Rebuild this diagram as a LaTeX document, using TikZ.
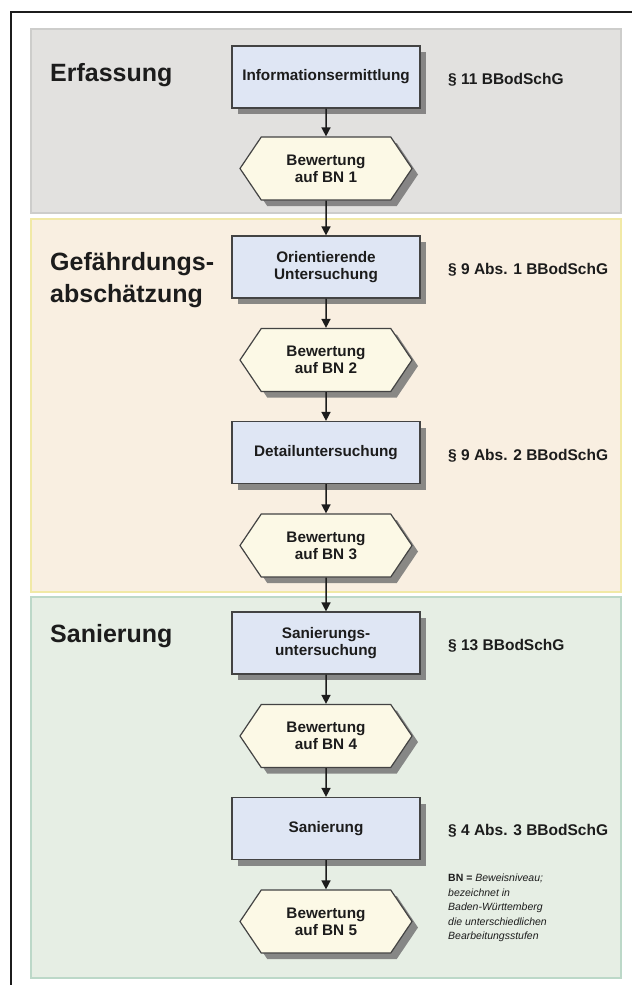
\documentclass[tikz,border=0pt]{standalone}
\usepackage{fontspec}
\setmainfont{Liberation Sans}
\usetikzlibrary{shapes.symbols, arrows.meta, shadows}

\definecolor{panelgray}{HTML}{E2E1DF}
\definecolor{panelgrayedge}{HTML}{CDCDCB}
\definecolor{panelyellow}{HTML}{F9EFE1}
\definecolor{panelyellowedge}{HTML}{F1E9A6}
\definecolor{panelgreen}{HTML}{E6EEE4}
\definecolor{panelgreenedge}{HTML}{BCD8C8}
\definecolor{boxfill}{HTML}{DFE6F4}
\definecolor{hexfill}{HTML}{FCF9E6}
\definecolor{edgedark}{HTML}{434343}
\definecolor{inkdark}{HTML}{1C1C1C}
\definecolor{shadowgray}{HTML}{767676}

\tikzset{
  panel/.style={line width=1.2pt},
  stepbox/.style={rectangle, draw=edgedark, line width=1.2pt, fill=boxfill,
    minimum width=188pt, minimum height=62pt, inner sep=0pt,
    align=center, text=inkdark,
    font=\fontsize{15.3}{17}\selectfont\bfseries,
    drop shadow={shadow xshift=6pt, shadow yshift=-6pt, fill=shadowgray, opacity=0.85}},
  evalhex/.style={signal, signal to=east and west, signal pointer angle=112,
    draw=edgedark, line width=1.2pt, fill=hexfill,
    minimum width=172pt, minimum height=63pt, inner sep=0pt,
    align=center, text=inkdark,
    font=\fontsize{15.3}{17}\selectfont\bfseries,
    drop shadow={shadow xshift=6pt, shadow yshift=-6pt, fill=shadowgray, opacity=0.85}},
  phase/.style={anchor=base west, inner sep=0pt, text=inkdark,
    font=\fontsize{25}{32}\selectfont\bfseries},
  lawref/.style={anchor=west, inner sep=0pt, text=inkdark,
    font=\fontsize{15.5}{17}\selectfont\bfseries},
  flow/.style={line width=1.5pt, draw=inkdark,
    -{Triangle[length=9pt, width=9pt]}},
}

\begin{document}
\begin{tikzpicture}[x=1pt, y=-1pt]
  \useasboundingbox (0,0) rectangle (632,985);

  % outer frame (top and left edges)
  \draw[line width=1.3pt, draw=inkdark] (11,985) -- (11,12) -- (632,12);

  % phase panels
  \draw[panel, fill=panelgray, draw=panelgrayedge] (31,29) rectangle (621,213);
  \draw[panel, fill=panelyellow, draw=panelyellowedge] (31,219) rectangle (621,592);
  \draw[panel, fill=panelgreen, draw=panelgreenedge] (31,597) rectangle (621,978);

  % phase titles
  \node[phase] (tErf) at (50,81) {Erfassung};
  \node[phase] (tGef1) at (50,270) {Gefährdungs-};
  \node[phase] (tGef2) at (50,302) {abschätzung};
  \node[phase] (tSan) at (50,642) {Sanierung};

  % process steps
  \node[stepbox] (b1) at (326,77)    {Informationsermittlung};
  \node[evalhex] (h1) at (326,168.5) {Bewertung\\auf BN 1};
  \node[stepbox] (b2) at (326,267)   {Orientierende\\Untersuchung};
  \node[evalhex] (h2) at (326,360)   {Bewertung\\auf BN 2};
  \node[stepbox] (b3) at (326,452.5) {Detailuntersuchung};
  \node[evalhex] (h3) at (326,545.5) {Bewertung\\auf BN 3};
  \node[stepbox] (b4) at (326,643)   {Sanierungs-\\untersuchung};
  \node[evalhex] (h4) at (326,736)   {Bewertung\\auf BN 4};
  \node[stepbox] (b5) at (326,828.5) {Sanierung};
  \node[evalhex] (h5) at (326,921.5) {Bewertung\\auf BN 5};

  % legal references
  \node[lawref] (l1) at (448,80)  {§ 11 BBodSchG};
  \node[lawref] (l2) at (448,270) {§ 9 Abs. 1 BBodSchG};
  \node[lawref] (l3) at (448,456) {§ 9 Abs. 2 BBodSchG};
  \node[lawref] (l4) at (448,646) {§ 13 BBodSchG};
  \node[lawref] (l5) at (448,831) {§ 4 Abs. 3 BBodSchG};

  % flow arrows
  \draw[flow] (b1) -- (h1);
  \draw[flow] (h1) -- (b2);
  \draw[flow] (b2) -- (h2);
  \draw[flow] (h2) -- (b3);
  \draw[flow] (b3) -- (h3);
  \draw[flow] (h3) -- (b4);
  \draw[flow] (b4) -- (h4);
  \draw[flow] (h4) -- (b5);
  \draw[flow] (b5) -- (h5);

  % footnote
  \node[anchor=north west, inner sep=0pt, align=left, text=inkdark,
        font=\fontsize{10.5}{14.5}\selectfont] (note) at (448,874)
    {\textbf{BN =} \textit{Beweisniveau;}\\
     \textit{bezeichnet in}\\
     \textit{Baden-Württemberg}\\
     \textit{die unterschiedlichen}\\
     \textit{Bearbeitungsstufen}};
\end{tikzpicture}
\end{document}
